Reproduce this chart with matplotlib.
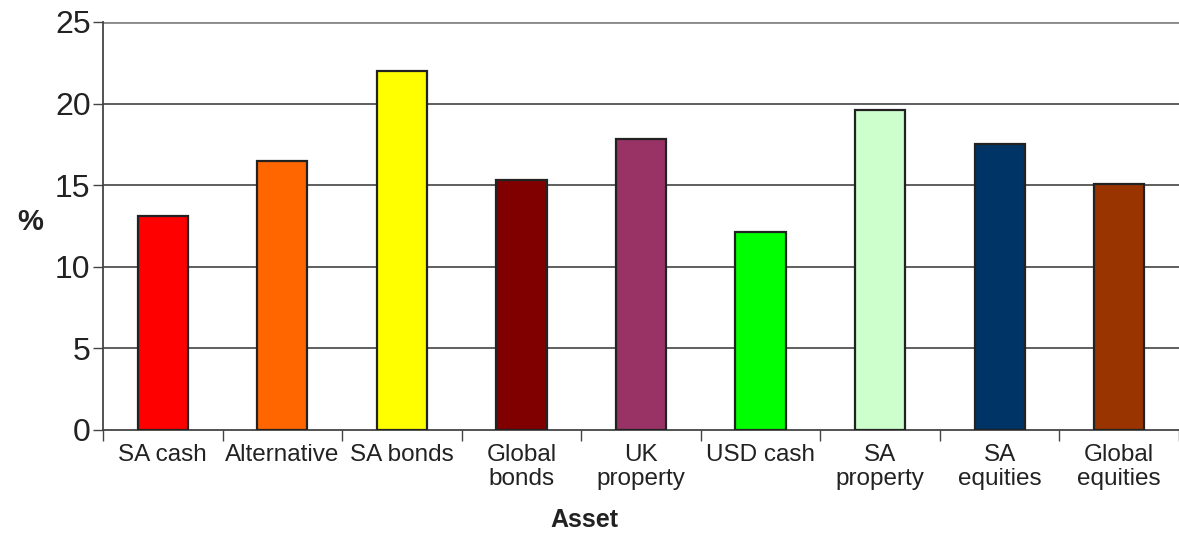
import matplotlib.pyplot as plt
import numpy as np

# Datos del grafico
assets = ['SA cash', 'Alternative', 'SA bonds', 'Global\nbonds', 'UK\nproperty',
          'USD cash', 'SA\nproperty', 'SA\nequities', 'Global\nequities']
values = [13.1, 16.5, 22.0, 15.3, 17.8, 12.1, 19.6, 17.5, 15.1]
colors = ['#FF0000', '#FF6600', '#FFFF00', '#800000', '#993366',
          '#00FF00', '#CCFFCC', '#003366', '#993300']
yticks = [0, 5, 10, 15, 20, 25]

plt.rcParams['font.family'] = ['Liberation Sans', 'DejaVu Sans']

fig = plt.figure(figsize=(11.79, 5.36), dpi=100)
ax = fig.add_axes([0.0874, 0.198, 0.9126, 0.761])

x = np.arange(len(assets))
ax.bar(x, values, width=0.42, color=colors, edgecolor='#222222', linewidth=1.6, zorder=3)

ax.set_xlim(-0.5, len(assets) - 0.5)
ax.set_ylim(0, 25)

# Lineas de cuadricula horizontales
for t in yticks[1:-1]:
    ax.axhline(t, color='#333333', linewidth=1.1, zorder=1)
ax.axhline(25, color='#888888', linewidth=2.0, zorder=1)

ax.set_yticks(yticks)
ax.set_yticklabels([str(t) for t in yticks], fontsize=23, color='#222222')
ax.tick_params(axis='y', length=7, width=1, color='#444444', pad=2)

# Marcas del eje x en los limites de las categorias, etiquetas centradas
ax.set_xticks(np.arange(len(assets) + 1) - 0.5)
ax.set_xticklabels([])
ax.set_xticks(x, minor=True)
ax.set_xticklabels(assets, minor=True, fontsize=17.5, color='#222222', linespacing=1.15)
ax.tick_params(axis='x', which='major', length=8, width=1, color='#444444', direction='out')
ax.tick_params(axis='x', which='minor', length=0, pad=10)

for side in ['top', 'right']:
    ax.spines[side].set_visible(False)
ax.spines['left'].set_color('#444444')
ax.spines['left'].set_linewidth(1.3)
ax.spines['bottom'].set_color('#444444')
ax.spines['bottom'].set_linewidth(1.3)

# Titulos de los ejes
fig.text(0.496, 0.03, 'Asset', fontsize=18, fontweight='bold', color='#222222',
         ha='center', va='center')
ax.set_ylabel('%', fontsize=21, fontweight='bold', color='#222222', rotation=0,
              va='center', ha='center')
ax.yaxis.set_label_coords(-0.068, 0.51)

fig.savefig('out.png', dpi=100)
